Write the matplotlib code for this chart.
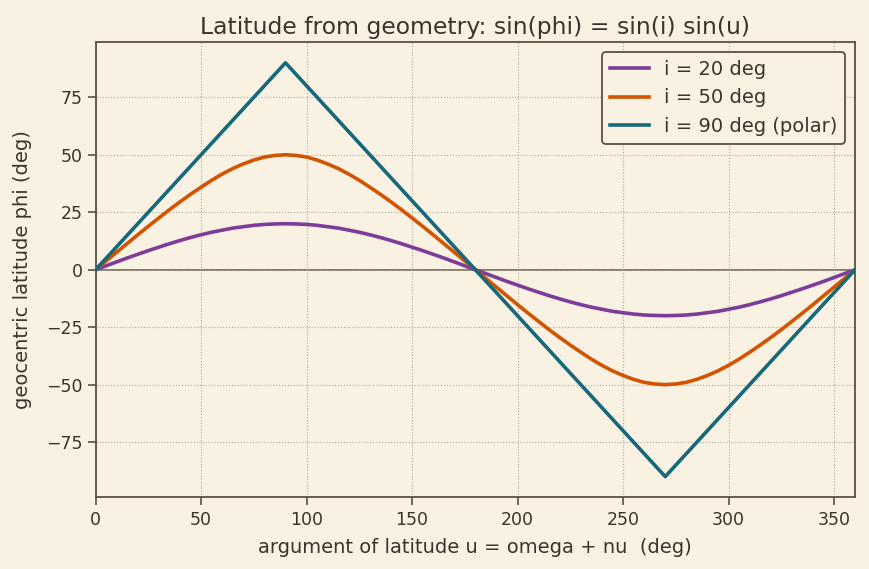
import numpy as np
import matplotlib.pyplot as plt

# argument of latitude (deg), one quarter of the orbit
u_quarter = [0, 5, 10, 15, 20, 25, 30, 35, 40, 45, 50, 55, 60, 65, 70, 75, 80, 85, 90]
lat_i20_quarter = [0, 1.7, 3.4, 5.1, 6.7, 8.3, 9.8, 11.3, 12.7, 14.0, 15.2,
                   16.3, 17.2, 18.1, 18.7, 19.3, 19.7, 19.9, 20.0]
lat_i50_quarter = [0, 3.8, 7.6, 11.4, 15.2, 18.9, 22.5, 26.1, 29.5, 32.8, 35.9,
                   38.9, 41.6, 44.0, 46.0, 47.7, 49.0, 49.7, 50.0]
lat_i90_quarter = [0, 5, 10, 15, 20, 25, 30, 35, 40, 45, 50,
                   55, 60, 65, 70, 75, 80, 85, 90]

labels = ["i = 20 deg", "i = 50 deg", "i = 90 deg (polar)"]
colors = ["#7d3c98", "#d35400", "#17687a"]

BG = "#f9f2e3"
INK = "#3b342c"
SPINE = "#5b5041"


def full_orbit(q):
    # quarter -> half (mirror about 90) -> full (negate for 180..360)
    half = list(q) + list(q[-2::-1])
    return np.array(half + [-v for v in half[1:]])


u = np.arange(0, 361, 5)
series = [full_orbit(s) for s in (lat_i20_quarter, lat_i50_quarter, lat_i90_quarter)]

plt.rcParams['font.family'] = ['DejaVu Sans']
fig, ax = plt.subplots(figsize=(8.69, 5.69), dpi=100)
fig.patch.set_facecolor(BG)
ax.set_facecolor(BG)

ax.axhline(0, color="#7a7060", lw=1.3, zorder=1)
for y, lab, c in zip(series, labels, colors):
    ax.plot(u, y, color=c, lw=2.6, label=lab, zorder=3)

ax.set_xlim(0, 360)
ax.set_ylim(-99, 99)
ax.set_yticks([-75, -50, -25, 0, 25, 50, 75])
ax.grid(True, linestyle=":", color="#b0a898", lw=0.8)

for s in ax.spines.values():
    s.set_color(SPINE)
    s.set_linewidth(1.3)
ax.tick_params(colors=SPINE, labelcolor=INK, labelsize=12.5, length=6, width=1.2)

ax.set_title("Latitude from geometry: sin(phi) = sin(i) sin(u)", fontsize=16.9, color=INK)
ax.set_xlabel("argument of latitude u = omega + nu  (deg)", fontsize=14, color=INK, labelpad=7)
ax.set_ylabel("geocentric latitude phi (deg)", fontsize=14, color=INK, labelpad=10)

leg = ax.legend(loc="upper right", fontsize=14, facecolor=BG, edgecolor=SPINE,
                framealpha=1, labelcolor=INK)
leg.get_frame().set_linewidth(1.3)

fig.subplots_adjust(left=0.11, right=0.984, top=0.926, bottom=0.126)
fig.savefig("out.png", facecolor=BG)
